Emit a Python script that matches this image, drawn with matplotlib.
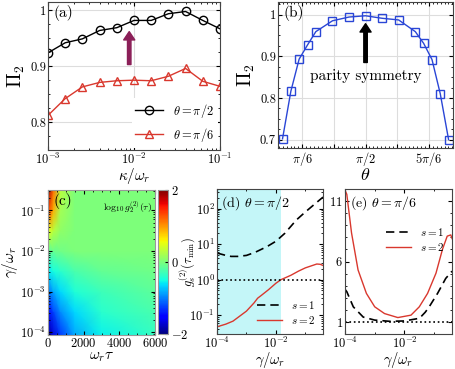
import matplotlib

matplotlib.use('Agg')
import numpy as np
import matplotlib.pyplot as plt
from matplotlib.ticker import LogLocator, MultipleLocator, NullFormatter, FixedLocator

plt.rcParams['font.family'] = 'serif'
plt.rcParams['font.serif'] = ['cmr10', 'DejaVu Serif']
plt.rcParams['mathtext.fontset'] = 'cm'
plt.rcParams['axes.formatter.use_mathtext'] = True
plt.rcParams['axes.unicode_minus'] = True

# (a) Pi_2 vs kappa/omega_r
kappa = [1e-3, 1.585e-3, 2.512e-3, 3.981e-3, 6.31e-3, 1e-2,
         1.585e-2, 2.512e-2, 3.981e-2, 6.31e-2, 1e-1]
pi2_half = [0.924, 0.942, 0.949, 0.964, 0.969, 0.982, 0.982, 0.994, 0.998, 0.982, 0.967]
pi2_sixth = [0.812, 0.842, 0.863, 0.871, 0.874, 0.875, 0.874, 0.882, 0.896, 0.873, 0.864]

# (b) Pi_2 vs theta
theta = [0.195, 0.333, 0.470, 0.609, 0.747, 1.023, 1.298, 1.571,
         1.844, 2.119, 2.395, 2.533, 2.672, 2.809, 2.947]
pi2_theta = [0.702, 0.816, 0.893, 0.927, 0.959, 0.985, 0.994, 0.997,
             0.991, 0.987, 0.959, 0.931, 0.892, 0.810, 0.700]

# (c) log10 g2(tau) map, read on a coarse grid
tau_nodes = [0, 300, 700, 1500, 3000, 6000]
gam_nodes = [8e-5, 3.2e-4, 1e-3, 3.2e-3, 1e-2, 3.2e-2, 1e-1, 3.3e-1]
logg2 = [[-1.9, -1.7, -1.3, -0.85, -0.55, -0.35],
         [-1.5, -1.25, -0.95, -0.65, -0.4, -0.25],
         [-1.05, -0.85, -0.65, -0.45, -0.3, -0.15],
         [-0.6, -0.5, -0.4, -0.25, -0.12, -0.05],
         [-0.15, -0.1, -0.05, 0.0, 0.0, 0.0],
         [0.5, 0.3, 0.1, 0.0, 0.0, 0.0],
         [1.4, 0.9, 0.2, 0.0, 0.0, 0.0],
         [1.9, 1.2, 0.3, 0.0, 0.0, 0.0]]

# (d) theta = pi/2
gam_d1 = [1e-4, 2e-4, 3e-4, 5e-4, 1e-3, 2e-3, 5e-3, 1e-2, 2e-2, 5e-2, 1e-1, 2e-1, 4e-1]
g_d1 = [5.6, 4.8, 4.5, 4.5, 4.8, 5.9, 8.5, 12, 20, 48, 80, 130, 210]
gam_d2 = [1e-4, 2e-4, 3.5e-4, 1e-3, 1.8e-3, 2.4e-3, 3.2e-3, 5.6e-3, 1e-2,
          1.5e-2, 3.2e-2, 5.9e-2, 1e-1, 2.45e-1, 3.2e-1, 4e-1]
g_d2 = [0.047, 0.056, 0.068, 0.13, 0.22, 0.30, 0.36, 0.52, 0.79,
        1.0, 1.32, 1.74, 2.14, 2.75, 2.7, 2.5]

# (e) theta = pi/6
gam_e1 = [1e-4, 1.15e-4, 1.9e-4, 4.1e-4, 1e-3, 3.2e-3, 1e-2, 3.2e-2, 5e-2,
          6.8e-2, 0.13, 0.245, 0.4]
g_e1 = [3.7, 3.5, 2.25, 1.4, 1.15, 1.05, 1.08, 1.3, 1.8, 2.25, 3.36, 4.6, 5.2]
gam_e2 = [1e-4, 1.15e-4, 1.66e-4, 2.75e-4, 5.25e-4, 1e-3, 2.14e-3, 6e-3,
          1.66e-2, 3.16e-2, 6e-2, 0.115, 0.19, 0.275, 0.363, 0.4]
g_e2 = [11.9, 11.56, 8.36, 5.3, 3.36, 2.25, 1.69, 1.36, 1.56, 2.25, 3.36,
        5.03, 7.0, 8.1, 8.2, 7.9]

red = '#d9382e'
blue = '#2a46d6'
W, H = 455, 369


def box(l, t, r, b):
    return [l / W, 1 - b / H, (r - l) / W, (b - t) / H]


def style(ax, size=9):
    ax.tick_params(which='both', direction='in', top=True, right=True, labelsize=size, pad=1.5)
    ax.tick_params(which='major', length=3)
    ax.tick_params(which='minor', length=1.5)
    for s in ax.spines.values():
        s.set_color('#444444')
        s.set_linewidth(0.8)


fig = plt.figure(figsize=(4.55, 3.69), dpi=100)

# ---- (a)
ax = fig.add_axes(box(48, 2, 220, 150))
ax.plot(kappa, pi2_half, 'k-', marker='o', mfc='none', ms=6, lw=1, label=r'$\theta=\pi/2$')
ax.plot(kappa, pi2_sixth, '-', color=red, marker='^', mfc='none', ms=6, lw=1, label=r'$\theta=\pi/6$')
ax.set_xscale('log')
ax.set_xlim(1e-3, 1e-1)
ax.set_ylim(0.75, 1.015)
ax.set_yticks([0.8, 0.9, 1.0])
ax.set_yticklabels(['0.8', '0.9', '1'])
ax.yaxis.set_minor_locator(MultipleLocator(0.025))
ax.grid(True, which='major', color='#dddddd', lw=0.8)
ax.set_axisbelow(True)
ax.set_xlabel(r'$\kappa/\omega_r$', fontsize=11, labelpad=-1)
ax.set_ylabel(r'$\Pi_2$', fontsize=14, labelpad=2)
ax.text(0.03, 0.9, '(a)', transform=ax.transAxes, fontsize=11)
ax.annotate('', xy=(0.0088, 0.962), xytext=(0.0088, 0.903),
            arrowprops=dict(facecolor='#8b1f58', edgecolor='#8b1f58', width=2.5,
                            headwidth=8, headlength=6))
ax.legend(loc='lower right', fontsize=9, frameon=True, framealpha=1,
          edgecolor='none', borderpad=0.3, handlelength=2.2, borderaxespad=0.2)
style(ax)

# ---- (b)
ax = fig.add_axes(box(278, 2, 453, 148))
ax.plot(theta, pi2_theta, '-', color=blue, marker='s', mfc='none', ms=6, lw=1)
ax.set_xlim(0.12, 3.02)
ax.set_ylim(0.68, 1.03)
ax.set_xticks([np.pi / 6, np.pi / 3, np.pi / 2, 2 * np.pi / 3, 5 * np.pi / 6])
ax.set_xticklabels([r'$\pi/6$', '', r'$\pi/2$', '', r'$5\pi/6$'])
ax.xaxis.set_minor_locator(MultipleLocator(np.pi / 48))
ax.set_yticks([0.7, 0.8, 0.9, 1.0])
ax.set_yticklabels(['0.7', '0.8', '0.9', '1'])
ax.yaxis.set_minor_locator(MultipleLocator(0.025))
ax.grid(True, which='major', color='#dddddd', lw=0.8)
ax.set_axisbelow(True)
ax.set_xlabel(r'$\theta$', fontsize=13, labelpad=-1)
ax.set_ylabel(r'$\Pi_2$', fontsize=14, labelpad=2)
ax.text(0.03, 0.9, '(b)', transform=ax.transAxes, fontsize=11)
ax.annotate('', xy=(np.pi / 2, 0.978), xytext=(np.pi / 2, 0.885),
            arrowprops=dict(facecolor='k', edgecolor='k', width=2.5,
                            headwidth=8, headlength=6))
ax.text(np.pi / 2, 0.853, 'parity symmetry', ha='center', va='center', fontsize=11)
style(ax)

# ---- (c)
ax = fig.add_axes(box(48, 190, 155, 335))
pc = ax.pcolormesh(tau_nodes, gam_nodes, np.array(logg2), cmap='jet',
                   vmin=-2, vmax=2, shading='gouraud', rasterized=True)
ax.set_yscale('log')
ax.set_xlim(0, 6000)
ax.set_ylim(8.5e-5, 0.32)
ax.set_xticks([0, 2000, 4000, 6000])
ax.set_yticks([1e-4, 1e-3, 1e-2, 1e-1])
ax.yaxis.set_minor_locator(LogLocator(subs=np.arange(2, 10)))
ax.yaxis.set_minor_formatter(NullFormatter())
ax.xaxis.set_minor_locator(MultipleLocator(500))
ax.set_xlabel(r'$\omega_r\tau$', fontsize=11, labelpad=0)
ax.set_ylabel(r'$\gamma/\omega_r$', fontsize=11, labelpad=0)
ax.text(0.05, 0.9, '(c)', transform=ax.transAxes, fontsize=11)
ax.text(0.97, 0.86, r'$\log_{10}g_2^{(2)}(\tau)$', transform=ax.transAxes,
        fontsize=7, ha='right')
style(ax)
for s in ax.spines.values():
    s.set_color('#999999')

cax = fig.add_axes(box(158, 190, 168, 334))
cb = fig.colorbar(pc, cax=cax, ticks=[-2, 0, 2])
cb.ax.tick_params(labelsize=9, length=2, direction='in', pad=2)
cb.outline.set_edgecolor('#999999')

# ---- (d)
ax = fig.add_axes(box(217, 189, 323, 334))
ax.axvspan(1e-4, 1.5e-2, color='#c4f6f8', lw=0)
ax.plot(gam_d1, g_d1, 'k--', lw=1.2, dashes=(5, 3), label=r'$s=1$')
ax.plot(gam_d2, g_d2, '-', color=red, lw=1, label=r'$s=2$')
ax.axhline(1, color='k', ls=':', lw=1.2)
ax.set_xscale('log')
ax.set_yscale('log')
ax.set_xlim(1e-4, 10 ** -0.4)
ax.set_ylim(10 ** -1.53, 10 ** 2.55)
ax.set_xticks([1e-4, 1e-2])
ax.xaxis.set_minor_locator(FixedLocator([1e-3, 1e-1]))
ax.xaxis.set_minor_formatter(NullFormatter())
ax.set_yticks([1e-1, 1, 10, 100])
ax.yaxis.set_minor_locator(LogLocator(subs=np.arange(2, 10)))
ax.yaxis.set_minor_formatter(NullFormatter())
ax.set_xlabel(r'$\gamma/\omega_r$', fontsize=10.5, labelpad=-1)
ax.set_ylabel(r'$g_s^{(2)}(\tau_{\min})$', fontsize=9)
ax.yaxis.set_label_coords(-0.19, 0.5)
ax.text(0.04, 0.88, r'(d) $\theta=\pi/2$', transform=ax.transAxes, fontsize=10)
ax.legend(loc='lower right', fontsize=8, frameon=False, handlelength=2.2,
          borderaxespad=0.3, labelspacing=0.3)
style(ax)

# ---- (e)
ax = fig.add_axes(box(345, 189, 452, 334))
ax.plot(gam_e1, g_e1, 'k--', lw=1.2, dashes=(5, 3), label=r'$s=1$')
ax.plot(gam_e2, g_e2, '-', color=red, lw=1, label=r'$s=2$')
ax.axhline(1, color='k', ls=':', lw=1.2)
ax.set_xscale('log')
ax.set_xlim(1e-4, 10 ** -0.4)
ax.set_ylim(0, 12)
ax.set_yticks([1, 6, 11])
ax.yaxis.set_minor_locator(MultipleLocator(1))
ax.set_xticks([1e-4, 1e-2])
ax.xaxis.set_minor_locator(FixedLocator([1e-3, 1e-1]))
ax.xaxis.set_minor_formatter(NullFormatter())
ax.set_xlabel(r'$\gamma/\omega_r$', fontsize=10.5, labelpad=-1)
ax.text(0.05, 0.88, r'(e) $\theta=\pi/6$', transform=ax.transAxes, fontsize=10)
ax.legend(loc='upper right', bbox_to_anchor=(1.0, 0.8), fontsize=8, frameon=False,
          handlelength=2.2, borderaxespad=0.3, labelspacing=0.3)
style(ax)

fig.savefig('out.png', dpi=100)
